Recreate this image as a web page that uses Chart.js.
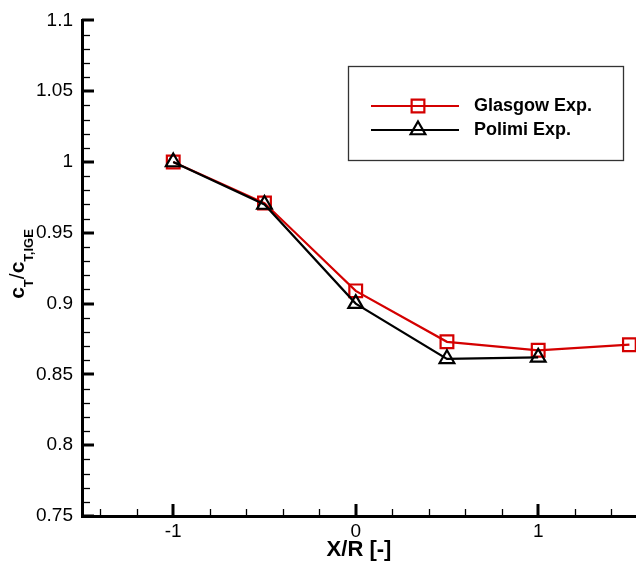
<!DOCTYPE html>
<html>
<head>
<meta charset="utf-8">
<script src="https://cdn.jsdelivr.net/npm/chart.js@4"></script>
<style>
  html, body { margin: 0; padding: 0; background: #fff; }
  canvas { display: block; }
</style>
</head>
<body>
<canvas id="chart" width="636" height="567"></canvas>
<script>
// data
var xPositions = [-1, -0.5, 0, 0.5, 1, 1.5];
var glasgowExp = [1.000, 0.971, 0.909, 0.873, 0.867, 0.871];
var polimiExp  = [1.000, 0.970, 0.900, 0.861, 0.862];

var xMajorTicks = [-1, 0, 1];
var xMinorTicks = [-1.4, -1.2, -0.8, -0.6, -0.4, -0.2, 0.2, 0.4, 0.6, 0.8, 1.2, 1.4];
var yMajorTicks = [0.75, 0.8, 0.85, 0.9, 0.95, 1, 1.05, 1.1];
var yMinorTicks = [];
for (var i = 76; i < 110; i++) { if (i % 5 !== 0) yMinorTicks.push(i / 100); }

var seriesNames = ['Glasgow Exp.', 'Polimi Exp.'];

function toPoints(values) {
  return values.map(function (v, i) { return { x: xPositions[i], y: v }; });
}

var FONT = '"Liberation Sans", Arial, Helvetica, sans-serif';

// inward ticks, y-axis title with subscripts, boxed legend
var decorations = {
  id: 'decorations',
  afterDraw: function (chart) {
    var ctx = chart.ctx;
    var xs = chart.scales.x, ys = chart.scales.y;
    var a = chart.chartArea;
    ctx.save();
    ctx.strokeStyle = '#000';

    function seg(x1, y1, x2, y2, w) {
      ctx.lineWidth = w;
      ctx.beginPath();
      ctx.moveTo(x1, y1);
      ctx.lineTo(x2, y2);
      ctx.stroke();
    }
    xMajorTicks.forEach(function (v) {
      var px = Math.round(xs.getPixelForValue(v));
      seg(px, a.bottom, px, a.bottom - 12, 3);
    });
    xMinorTicks.forEach(function (v) {
      var px = Math.round(xs.getPixelForValue(v)) + 0.5;
      seg(px, a.bottom, px, a.bottom - 7, 1.3);
    });
    yMajorTicks.forEach(function (v) {
      var py = Math.round(ys.getPixelForValue(v));
      seg(a.left, py, a.left + 12, py, 3);
    });
    yMinorTicks.forEach(function (v) {
      var py = Math.round(ys.getPixelForValue(v)) + 0.5;
      seg(a.left, py, a.left + 8, py, 1.3);
    });

    // y title: c_T / c_T,IGE
    ctx.save();
    ctx.translate(24, 264);
    ctx.rotate(-Math.PI / 2);
    ctx.fillStyle = '#000';
    ctx.textBaseline = 'alphabetic';
    var parts = [
      { t: 'c', f: 'bold 21px ' + FONT, dy: 0 },
      { t: 'T', f: 'bold 13px ' + FONT, dy: 9 },
      { t: '/', f: '21px ' + FONT, dy: 0 },
      { t: 'c', f: 'bold 21px ' + FONT, dy: 0 },
      { t: 'T,IGE', f: 'bold 13px ' + FONT, dy: 9 }
    ];
    var total = 0;
    parts.forEach(function (p) { ctx.font = p.f; p.w = ctx.measureText(p.t).width; total += p.w; });
    var cx = -total / 2;
    parts.forEach(function (p) {
      ctx.font = p.f;
      ctx.fillText(p.t, cx, p.dy);
      cx += p.w;
    });
    ctx.restore();

    // legend box, rows in the order of seriesNames
    ctx.lineWidth = 1.3;
    ctx.strokeStyle = '#333';
    ctx.strokeRect(348.5, 66.5, 275, 94);
    var rows = [106, 130];
    seriesNames.forEach(function (name, i) {
      var ds = chart.data.datasets.filter(function (d) { return d.label === name; })[0];
      var y = rows[i];
      ctx.strokeStyle = ds.borderColor;
      seg(371, y, 459, y, ds.borderWidth);
      ctx.fillStyle = 'rgba(0,0,0,0)';
      ctx.lineWidth = ds.pointBorderWidth;
      Chart.helpers.drawPoint(ctx, {
        pointStyle: ds.pointStyle, radius: ds.pointRadius, rotation: 0, borderWidth: ds.pointBorderWidth
      }, 418, y);
      ctx.fillStyle = '#000';
      ctx.font = 'bold 18px ' + FONT;
      ctx.textBaseline = 'middle';
      ctx.textAlign = 'left';
      ctx.fillText(ds.label, 474, y);
    });
    ctx.restore();
  }
};

new Chart(document.getElementById('chart').getContext('2d'), {
  type: 'line',
  data: {
    datasets: [
      {
        label: seriesNames[1],
        data: toPoints(polimiExp),
        borderColor: '#000000',
        borderWidth: 2.2,
        pointStyle: 'triangle',
        pointRadius: 8.5,
        pointBorderWidth: 2.2,
        pointBorderColor: '#000000',
        pointBackgroundColor: 'rgba(0,0,0,0)',
        tension: 0,
        clip: false
      },
      {
        label: seriesNames[0],
        data: toPoints(glasgowExp),
        borderColor: '#d40000',
        borderWidth: 2.2,
        pointStyle: 'rect',
        pointRadius: 9,
        pointBorderWidth: 2.2,
        pointBorderColor: '#d40000',
        pointBackgroundColor: 'rgba(0,0,0,0)',
        tension: 0,
        clip: false
      }
    ]
  },
  options: {
    responsive: false,
    animation: false,
    events: [],
    layout: { autoPadding: false, padding: { top: 14, right: 0, left: 0, bottom: 0 } },
    plugins: {
      legend: { display: false },
      tooltip: { enabled: false },
      title: { display: false }
    },
    scales: {
      x: {
        type: 'linear',
        min: -1.5,
        max: 1.536,
        afterBuildTicks: function (s) { s.ticks = xMajorTicks.map(function (v) { return { value: v }; }); },
        afterFit: function (s) { s.height = 51; },
        grid: { display: false, drawTicks: false },
        border: { display: true, color: '#000', width: 3 },
        ticks: {
          color: '#000',
          font: { family: FONT, size: 19 },
          padding: 4,
          maxRotation: 0,
          callback: function (v) { return String(v); }
        },
        title: {
          display: true,
          text: 'X/R [-]',
          color: '#000',
          font: { family: FONT, size: 22, weight: 'bold' },
          padding: { top: 0, bottom: 4 }
        }
      },
      y: {
        type: 'linear',
        min: 0.75,
        max: 1.1,
        afterBuildTicks: function (s) { s.ticks = yMajorTicks.map(function (v) { return { value: v }; }); },
        afterFit: function (s) { s.width = 82; },
        grid: { display: false, drawTicks: false },
        border: { display: true, color: '#000', width: 3 },
        ticks: {
          color: '#000',
          font: { family: FONT, size: 19 },
          padding: 9,
          callback: function (v) { return String(parseFloat(v.toFixed(2))); }
        }
      }
    }
  },
  plugins: [decorations]
});
</script>
</body>
</html>
